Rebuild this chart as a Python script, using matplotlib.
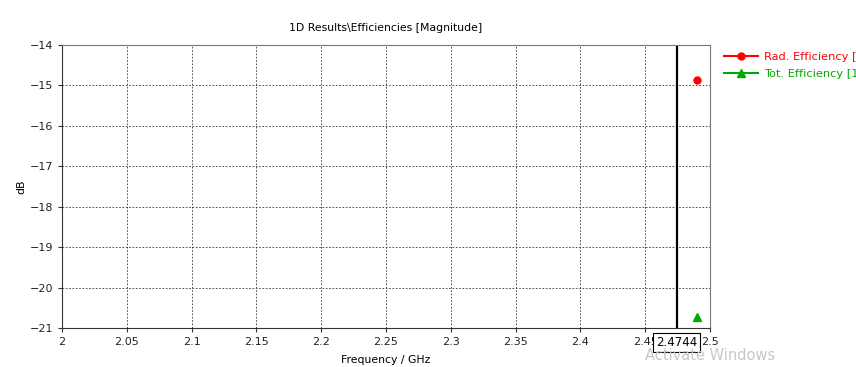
import matplotlib.pyplot as plt

# data
freq = [2.49]
rad_eff = [-14.87]
tot_eff = [-20.73]
marker_freq = 2.4744

x_ticks = [2, 2.05, 2.1, 2.15, 2.2, 2.25, 2.3, 2.35, 2.4, 2.45, 2.5]
x_tick_labels = ["2", "2.05", "2.1", "2.15", "2.2", "2.25", "2.3", "2.35", "2.4", "2.45", "2.5"]
y_ticks = [-21, -20, -19, -18, -17, -16, -15, -14]

plt.rcParams["font.family"] = ["DejaVu Sans"]
plt.rcParams["font.size"] = 8

fig = plt.figure(figsize=(8.56, 3.67), dpi=100)
ax = fig.add_axes([62 / 856, 1 - 328 / 367, 648 / 856, 283 / 367])

ax.plot(freq, rad_eff, color="#ff0000", marker="o", markersize=5, linestyle="-",
        label="Rad. Efficiency [1]")
ax.plot(freq, tot_eff, color="#00aa00", marker="^", markersize=6, linestyle="-",
        label="Tot. Efficiency [1]")
ax.axvline(marker_freq, color="black", linewidth=1.6)

ax.set_xlim(2, 2.5)
ax.set_ylim(-21, -14)
ax.set_xticks(x_ticks)
ax.set_xticklabels(x_tick_labels)
ax.set_yticks(y_ticks)
ax.grid(True, color="#333333", linestyle=(0, (2, 2)), linewidth=0.6)
ax.tick_params(direction="out", length=3, width=0.8, colors="#333333",
               labelcolor="#222222", labelsize=8)
for side in ["left", "bottom"]:
    ax.spines[side].set_color("#333333")
for side in ["top", "right"]:
    ax.spines[side].set_color("#777777")

ax.set_title("1D Results\\Efficiencies [Magnitude]", fontsize=7.8, pad=10)
ax.set_xlabel("Frequency / GHz", fontsize=7.8, labelpad=6)
ax.set_ylabel("dB", fontsize=7.8, labelpad=2)

ax.text(marker_freq, -21.2, "%.4f" % marker_freq, ha="center", va="top", fontsize=8.5,
        bbox=dict(boxstyle="square,pad=0.25", facecolor="white", edgecolor="black", linewidth=0.8),
        transform=ax.transData, clip_on=False, zorder=10)

leg = ax.legend(loc="upper left", bbox_to_anchor=(1.015, 0.99), frameon=False,
                handlelength=3.0, handletextpad=0.5, fontsize=8.2, borderaxespad=0,
                labelspacing=0.55)
for text, line in zip(leg.get_texts(), leg.get_lines()):
    text.set_color(line.get_color())

fig.text(645 / 856, 1 - 355 / 367, "Activate Windows", color="#c8c8c8", fontsize=10.5, va="center")

fig.savefig("out.png", dpi=100)
